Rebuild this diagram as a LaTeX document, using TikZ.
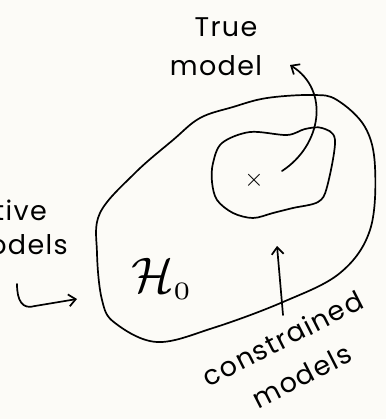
\documentclass[tikz,border=0pt]{standalone}
\usepackage{fontspec}
\setmainfont{Poppins}[LetterSpace=5]
\usepackage{tikz}
\usetikzlibrary{arrows.meta}
\definecolor{paper}{RGB}{252,251,247}

\begin{document}
\begin{tikzpicture}[x=1pt, y=-1pt,
  hand/.style={draw=black, line width=1.7pt, line join=round, line cap=round},
  lbl/.style={font=\fontsize{27}{30}\selectfont, inner sep=0pt},
  arrow/.style={hand, -{Straight Barb[length=7pt, width=12pt, line width=1.7pt]}}]
  \fill[paper] (0,0) rectangle (386,419);
  \useasboundingbox (0,0) rectangle (386,419);
  % hypothesis set H_0
  \draw[hand] plot[smooth cycle, tension=0.6] coordinates {
    (135,173) (100,213) (97,253) (102,300) (115,323) (157,342) (213,328)
    (283,302) (340,273) (370,230) (375,167) (365,127) (337,100) (313,95)
    (267,98) (233,107) (200,118) (173,140)};
  % constrained region
  \draw[hand] plot[smooth cycle, tension=0.55] coordinates {
    (213,163) (222,143) (250,132) (287,135) (305,129) (322,128) (335,140)
    (327,187) (318,202) (293,208) (273,213) (253,218) (233,213) (217,200)
    (212,182)};
  \node[scale=5, inner sep=0pt] (H) at (162,279) {$\mathcal{H}_{\scriptscriptstyle 0}$};
  \node[font=\fontsize{26}{26}\selectfont, inner sep=0pt] (xmark) at (254,180) {$\times$};
  \node[lbl] (true) at (226,27) {True};
  \node[lbl] (model) at (216,66) {model};
  \node[lbl, font=\fontsize{27}{42}\selectfont, align=center, rotate=27] (constr) at (292,357) {constrained\\models};
  \node[lbl, anchor=east] (alt) at (47,210) {Alternative};
  \node[lbl, anchor=east] (amodels) at (68,245) {models};
  % connectors
  \coordinate (xtail) at (282,171);
  \coordinate (ttip) at (290,65);
  \coordinate (ctail) at (283,315);
  \coordinate (ctip) at (277,246);
  \coordinate (atail) at (17,284);
  \coordinate (atip) at (77,299);
  \draw[arrow] (xtail) .. controls (322,145) and (330,90) .. (ttip);
  \draw[arrow] (ctail) -- (ctip);
  \draw[arrow] (atail) .. controls (17,300) and (22,310) .. (35,306) -- (atip);
\end{tikzpicture}
\end{document}
